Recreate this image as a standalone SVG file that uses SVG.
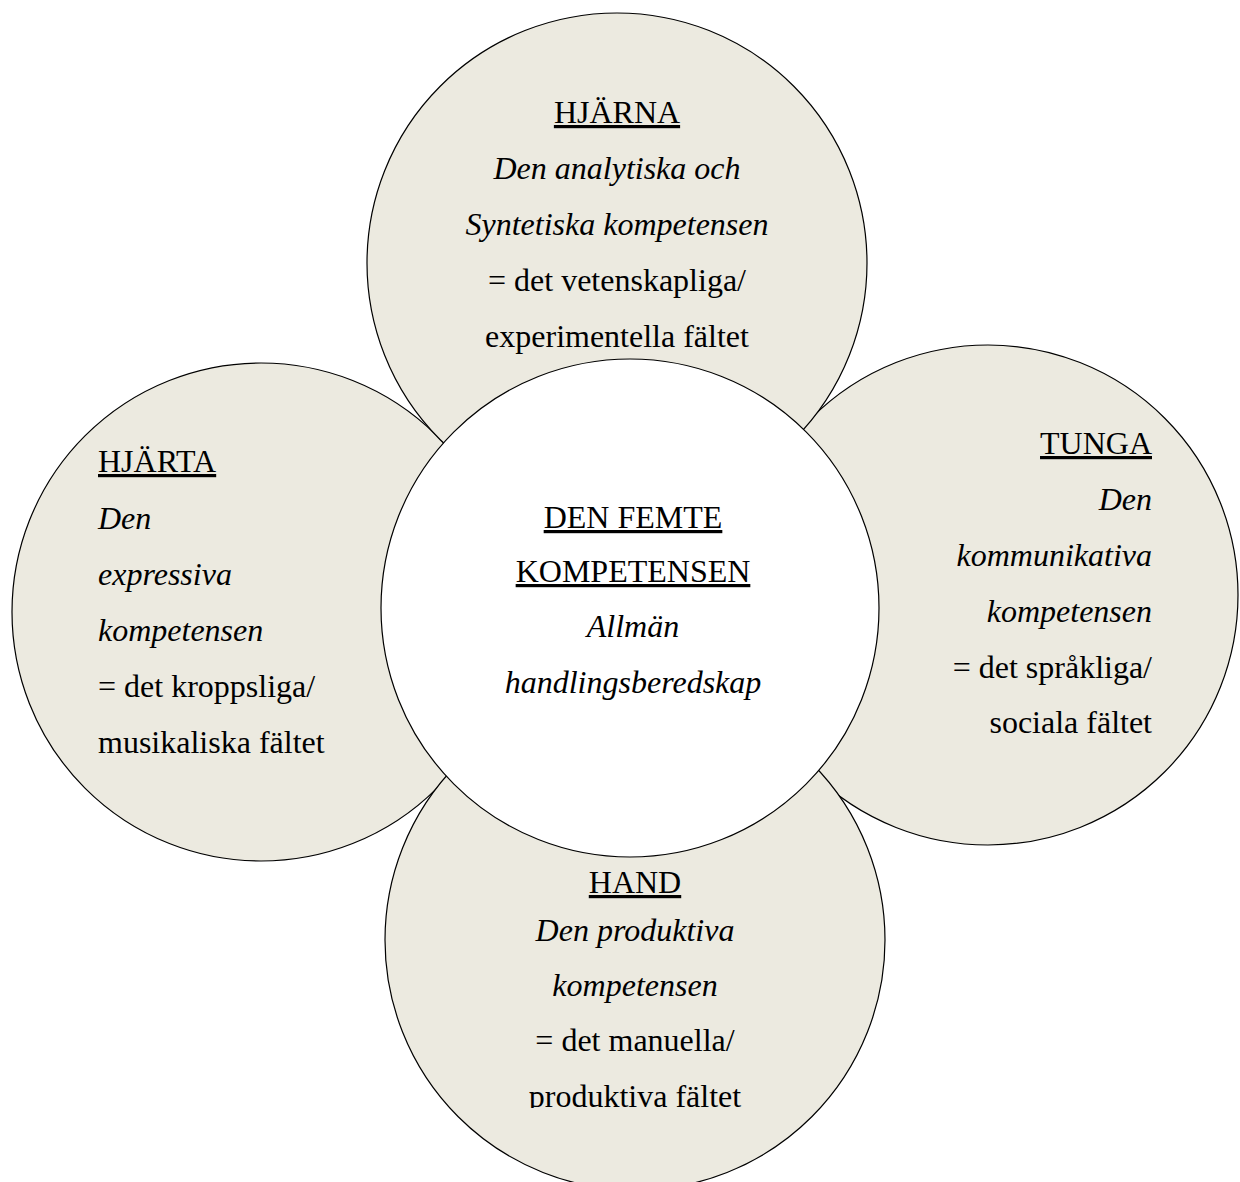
<svg xmlns="http://www.w3.org/2000/svg" width="1240" height="1182" viewBox="0 0 1240 1182">
  <style>
    .petal { fill: #ECEAE0; stroke: #000; stroke-width: 1.2; }
    .core { fill: #FFFFFF; stroke: #000; stroke-width: 1.2; }
    text { font-family: "Liberation Serif", "Times New Roman", serif; font-size: 32px; fill: #000; }
    .u { text-decoration: underline; }
    .i { font-style: italic; }
    .c { text-anchor: middle; }
    .r { text-anchor: end; }
  </style>
  <defs>
    <clipPath id="clipBottom">
      <rect x="0" y="0" width="1240" height="1108"/>
    </clipPath>
  </defs>
  <rect x="0" y="0" width="1240" height="1182" fill="#FFFFFF"/>

  <g id="node-hjarta">
    <circle class="petal" cx="261" cy="612" r="249"/>
    <text x="98" y="472" class="u">HJÄRTA</text>
    <text x="98" y="529" class="i">Den</text>
    <text x="98" y="585" class="i">expressiva</text>
    <text x="98" y="641" class="i">kompetensen</text>
    <text x="98" y="697">= det kroppsliga/</text>
    <text x="98" y="753">musikaliska fältet</text>
  </g>

  <g id="node-tunga">
    <circle class="petal" cx="988" cy="595" r="250"/>
    <text x="1152" y="454" class="u r">TUNGA</text>
    <text x="1152" y="510" class="i r">Den</text>
    <text x="1152" y="566" class="i r">kommunikativa</text>
    <text x="1152" y="622" class="i r">kompetensen</text>
    <text x="1152" y="678" class="r">= det språkliga/</text>
    <text x="1152" y="733" class="r">sociala fältet</text>
  </g>

  <g id="node-hjarna">
    <circle class="petal" cx="617" cy="263" r="250"/>
    <text x="617" y="123" class="u c">HJÄRNA</text>
    <text x="617" y="179" class="i c">Den analytiska och</text>
    <text x="617" y="235" class="i c">Syntetiska kompetensen</text>
    <text x="617" y="291" class="c">= det vetenskapliga/</text>
    <text x="617" y="347" class="c">experimentella fältet</text>
  </g>

  <g id="node-hand">
    <circle class="petal" cx="635" cy="940" r="250"/>
    <g clip-path="url(#clipBottom)">
      <text x="635" y="893" class="u c">HAND</text>
      <text x="635" y="941" class="i c">Den produktiva</text>
      <text x="635" y="996" class="i c">kompetensen</text>
      <text x="635" y="1051" class="c">= det manuella/</text>
      <text x="635" y="1107" class="c">produktiva fältet</text>
    </g>
  </g>

  <g id="node-center">
    <circle class="core" cx="630" cy="608" r="249"/>
    <text x="633" y="528" class="u c">DEN FEMTE</text>
    <text x="633" y="582" class="u c">KOMPETENSEN</text>
    <text x="633" y="637" class="i c">Allmän</text>
    <text x="633" y="693" class="i c">handlingsberedskap</text>
  </g>

  <g id="connectors"></g>
</svg>
